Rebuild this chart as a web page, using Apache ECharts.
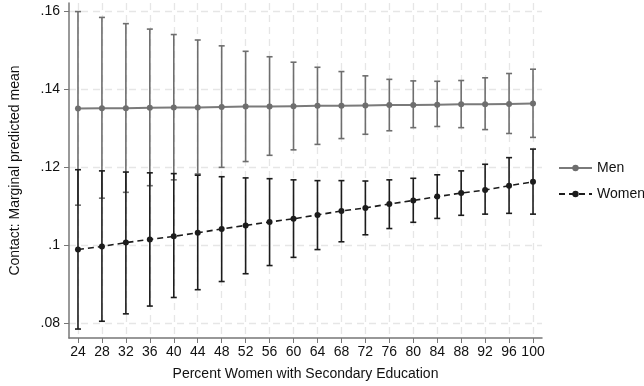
<!DOCTYPE html>
<html>
<head>
<meta charset="utf-8">
<script src="https://cdn.jsdelivr.net/npm/echarts@6/dist/echarts.min.js"></script>
<style>
    html, body {margin: 0; padding: 0; background: #fff;}
    #chartWrap {width: 644px; height: 386px;}
</style>
</head>
<body>
<div id="chartWrap"></div>
<script>
// values
const xValues = [24, 28, 32, 36, 40, 44, 48, 52, 56, 60, 64, 68, 72, 76, 80, 84, 88, 92, 96, 100];
const menMean = [.1351, .1352, .1352, .1353, .1354, .1354, .1355, .1356, .1356, .1357, .1358, .1358, .1359, .1360, .1360, .1361, .1362, .1362, .1363, .1364];
const menLo = [.1103, .1121, .1136, .1153, .1168, .1183, .1200, .1215, .1231, .1245, .1259, .1274, .1285, .1294, .1302, .1305, .1302, .1297, .1287, .1277];
const menHi = [.1600, .1585, .1569, .1555, .1541, .1527, .1512, .1498, .1484, .1470, .1457, .1446, .1435, .1426, .1422, .1421, .1423, .1430, .1441, .1452];
const womenMean = [.0989, .0997, .1007, .1015, .1023, .1032, .1042, .1051, .1060, .1068, .1078, .1088, .1096, .1106, .1115, .1125, .1134, .1142, .1153, .1163];
const womenLo = [.0785, .0805, .0824, .0844, .0866, .0886, .0907, .0927, .0948, .0969, .0989, .1009, .1027, .1043, .1059, .1069, .1077, .1080, .1082, .1080];
const womenHi = [.1194, .1191, .1188, .1186, .1184, .1180, .1176, .1173, .1171, .1168, .1166, .1166, .1165, .1168, .1172, .1181, .1191, .1208, .1225, .1247];
const yTicks = [.08, .10, .12, .14, .16];

const menColor = '#6e6e6e';
const womenColor = '#1c1c1c';
const font = 'Liberation Sans, Arial, Helvetica, sans-serif';

let myChart = echarts.init(document.getElementById('chartWrap'));

function pairs(mean) {
    return xValues.map(function (x, i) {
        return [x, mean[i]];
    });
}

function bars(lo, hi) {
    return xValues.map(function (x, i) {
        return [x, lo[i], hi[i]];
    });
}

function errorBar(color) {
    return function (params, api) {
        const x = api.value(0);
        const top = api.coord([x, api.value(2)]);
        const bot = api.coord([x, api.value(1)]);
        const cap = 3;
        const style = {stroke: color, lineWidth: 1.6, fill: null};
        return {
            type: 'group',
            children: [
                {type: 'line', shape: {x1: top[0], y1: top[1], x2: bot[0], y2: bot[1]}, style: style},
                {type: 'line', shape: {x1: top[0] - cap, y1: top[1], x2: top[0] + cap, y2: top[1]}, style: style},
                {type: 'line', shape: {x1: bot[0] - cap, y1: bot[1], x2: bot[0] + cap, y2: bot[1]}, style: style}
            ]
        };
    };
}

const gridLine = {
    show: true,
    lineStyle: {color: '#e6e6e6', width: 1.3, type: [7, 5]}
};

myChart.setOption({
    animation: false,
    textStyle: {fontFamily: font},
    grid: {left: 56, right: 102, top: 3, bottom: 46},
    legend: {
        orient: 'vertical',
        left: 553,
        top: 156,
        itemWidth: 33,
        itemHeight: 8,
        itemGap: 12,
        textStyle: {fontSize: 14, color: '#111', fontFamily: font},
        data: ['Men', 'Women']
    },
    xAxis: {
        type: 'value',
        min: 22.5,
        max: 101.5,
        name: 'Percent Women with Secondary Education',
        nameLocation: 'middle',
        nameGap: 29,
        nameTextStyle: {fontSize: 14, color: '#111'},
        axisLine: {show: true, onZero: false, lineStyle: {color: '#777', width: 1.5}},
        axisTick: {show: true, length: 5, customValues: xValues, lineStyle: {color: '#777'}},
        axisLabel: {customValues: xValues, fontSize: 14, color: '#111', margin: 7},
        splitLine: gridLine
    },
    yAxis: {
        type: 'value',
        min: .0762,
        max: .1622,
        name: 'Contact: Marginal predicted mean',
        nameLocation: 'middle',
        nameGap: 47,
        nameTextStyle: {fontSize: 14, color: '#111'},
        axisLine: {show: true, lineStyle: {color: '#777', width: 1.5}},
        axisTick: {show: true, length: 5, customValues: yTicks, lineStyle: {color: '#777'}},
        axisLabel: {
            customValues: yTicks,
            fontSize: 14,
            color: '#111',
            margin: 9,
            formatter: function (v) {
                return String(+v.toFixed(2)).replace(/^0/, '');
            }
        },
        splitLine: gridLine
    },
    series: [
        {
            name: 'Men CI',
            type: 'custom',
            renderItem: errorBar(menColor),
            encode: {x: 0, y: [1, 2]},
            data: bars(menLo, menHi),
            z: 2
        },
        {
            name: 'Men',
            type: 'line',
            data: pairs(menMean),
            symbol: 'circle',
            symbolSize: 6,
            color: menColor,
            lineStyle: {color: '#7a7a7a', width: 2},
            itemStyle: {color: menColor},
            z: 3
        },
        {
            name: 'Women CI',
            type: 'custom',
            renderItem: errorBar(womenColor),
            encode: {x: 0, y: [1, 2]},
            data: bars(womenLo, womenHi),
            z: 4
        },
        {
            name: 'Women',
            type: 'line',
            data: pairs(womenMean),
            symbol: 'circle',
            symbolSize: 6,
            color: womenColor,
            lineStyle: {color: womenColor, width: 1.6, type: [6, 4]},
            itemStyle: {color: womenColor},
            z: 5
        }
    ]
});
</script>
</body>
</html>
